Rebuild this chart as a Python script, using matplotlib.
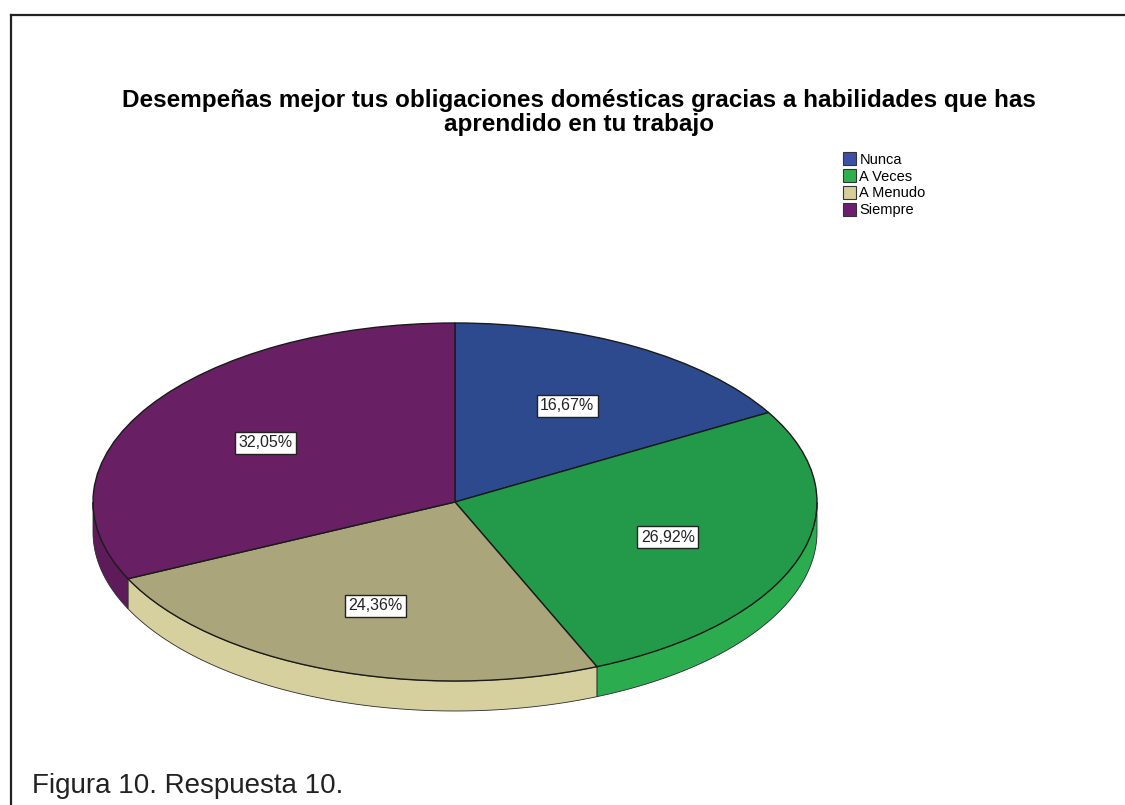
import numpy as np
import matplotlib
matplotlib.use("Agg")
import matplotlib.pyplot as plt
from matplotlib.patches import Polygon, Patch
from matplotlib.lines import Line2D

# respuestas (n = 78)
categorias = ["Nunca", "A Veces", "A Menudo", "Siempre"]
frecuencias = [13, 21, 19, 25]
titulo = ["Desempeñas mejor tus obligaciones domésticas gracias a habilidades que has",
          "aprendido en tu trabajo"]
pie_figura = "Figura 10. Respuesta 10."

color_sup = ["#2e4a8e", "#229a4a", "#aba57b", "#681f63"]
color_lado = ["#34509a", "#2bad4f", "#d6d09e", "#5e1b5a"]
color_leyenda = ["#3c50a8", "#2fb04e", "#d6cf9a", "#6c1f70"]

W, H = 1125, 805
cx, cy, rx, ry = 455, 502, 362, 179   # pixeles del centro y radios
grosor = 30 / ry                      # espesor del disco, en unidades del pie

plt.rcParams['font.family'] = ['Liberation Sans', 'DejaVu Sans']
fig = plt.figure(figsize=(W / 100, H / 100), dpi=100)
ax = fig.add_axes([0, 0, 1, 1])

wedges, textos, autotextos = ax.pie(
    frecuencias, colors=color_sup, startangle=90, counterclock=False,
    autopct=lambda p: f"{p:.2f}%".replace(".", ","), pctdistance=0.62,
    wedgeprops=dict(edgecolor="#1a1a1a", linewidth=1.0),
    textprops=dict(fontsize=11.5, color="#222222"))
for w in wedges:
    w.set_zorder(3)
for t in autotextos:
    t.set_zorder(5)
    t.set_bbox(dict(facecolor="white", edgecolor="#222222", linewidth=1.0, pad=2.5))

# lateral del disco: solo la mitad inferior del borde queda visible
fracs = np.array(frecuencias) / np.sum(frecuencias)
limites = 90 - 360 * np.concatenate([[0], np.cumsum(fracs)])
for i in range(len(frecuencias)):
    a2, a1 = limites[i], limites[i + 1]        # a1 < a2
    for k in (-1, 0):
        lo = max(a1, -180 + 360 * k)
        hi = min(a2, 0 + 360 * k)
        if hi <= lo:
            continue
        th = np.radians(np.linspace(lo, hi, 80))
        arriba = np.column_stack([np.cos(th), np.sin(th)])
        abajo = np.column_stack([np.cos(th[::-1]), np.sin(th[::-1]) - grosor])
        ax.add_patch(Polygon(np.vstack([arriba, abajo]), closed=True,
                             facecolor=color_lado[i], edgecolor="#2a2a2a",
                             linewidth=0.6, zorder=2))

ax.set_aspect("auto")
ax.set_xlim(-cx / rx, (W - cx) / rx)
ax.set_ylim((cy - H) / ry, cy / ry)
ax.axis("off")

def fx(px):
    return px / W

def fy(py):
    return 1 - py / H

# titulo en dos lineas muy juntas
fig.text(fx(579), fy(107), titulo[0], ha="center", va="baseline", fontsize=17.5,
         fontweight="bold")
fig.text(fx(579), fy(131), titulo[1], ha="center", va="baseline", fontsize=17.5,
         fontweight="bold")

manejadores = [Patch(facecolor=c, edgecolor="#333333", linewidth=0.8) for c in color_leyenda]
fig.legend(manejadores, categorias, loc="upper left",
           bbox_to_anchor=(fx(836), fy(145)), frameon=False, fontsize=10.5,
           handlelength=0.85, handleheight=0.95, handletextpad=0.25,
           labelspacing=0.18, borderpad=0)

fig.text(fx(32), fy(793), pie_figura, ha="left", va="baseline", fontsize=20,
         color="#222222")

# marco de la figura
fig.add_artist(Line2D([fx(11), fx(11)], [fy(15), 0], color="#222222", linewidth=1.6))
fig.add_artist(Line2D([fx(11), 1], [fy(15), fy(15)], color="#222222", linewidth=1.6))

fig.savefig("out.png", dpi=100, facecolor="white")
